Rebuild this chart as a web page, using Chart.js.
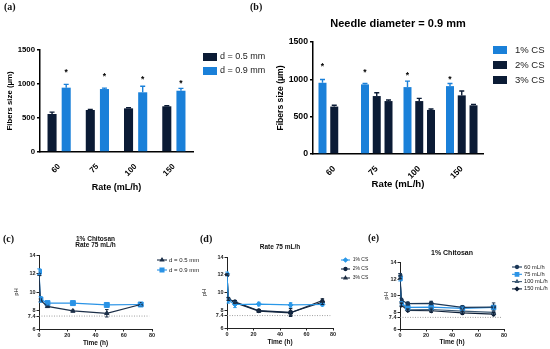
<!doctype html>
<html>
<head>
    <title>Fibers size and pH</title>
    <script src="https://cdn.jsdelivr.net/npm/chart.js@4/dist/chart.umd.min.js"></script>
    <style>
    body { margin: 0; background: #fff; }
    #fig { position: relative; width: 550px; height: 349px; background: #fff; overflow: hidden; }
    #fig canvas { position: absolute; }
    .tag { position: absolute; font: bold 10px 'Liberation Serif', 'Times New Roman', serif; line-height: 10px; color: #111; }
    </style>
</head>
<body>
<div id="fig">
    <canvas id="chartA" width="275" height="200" style="left:0;top:0"></canvas>
    <canvas id="chartB" width="275" height="200" style="left:275px;top:0"></canvas>
    <canvas id="chartC" width="200" height="124" style="left:0;top:225px"></canvas>
    <canvas id="chartD" width="185" height="124" style="left:185px;top:225px"></canvas>
    <canvas id="chartE" width="185" height="124" style="left:365px;top:225px"></canvas>
    <div class="tag" style="left:4px;top:2px">(a)</div>
    <div class="tag" style="left:250px;top:2px">(b)</div>
    <div class="tag" style="left:3px;top:234px">(c)</div>
    <div class="tag" style="left:200px;top:234px">(d)</div>
    <div class="tag" style="left:368px;top:233px">(e)</div>
</div>
<script>
// fibre size (um) per flow rate
var rateLabels = ['60', '75', '100', '150'];
var fiberTicks = [0, 500, 1000, 1500];

var sizeD05 = [559, 618, 642, 672];
var errD05 = [28, 7, 8, 8];
var sizeD09 = [946, 926, 878, 901];
var errD09 = [48, 14, 90, 35];
var starsA = [1205, 1148, 1098, 1035];

var sizeCS1 = [954, 932, 896, 909];
var errCS1 = [44, 13, 80, 36];
var sizeCS2 = [635, 776, 709, 785];
var errCS2 = [17, 45, 36, 58];
var sizeCS3 = [null, 709, 590, 652];
var errCS3 = [0, 14, 13, 13];
var starsB = [1198, 1122, 1078, 1034];

// pH over time
var timeH = [0, 1, 6, 24, 48, 72];
var timeTicks = [0, 20, 40, 60, 80];
var phTicks = [6, 7.4, 8, 10, 12, 14];
var refPH = 7.4;
var refEnd = 78;

var phD05 = [11.9, 9.1, 8.45, 7.95, 7.7, 8.65];
var errPhD05 = [0.1, 0.15, 0.1, 0.1, 0.4, 0.1];
var phD09 = [12.2, 9.2, 8.8, 8.8, 8.6, 8.65];
var errPhD09 = [0.3, 0.3, 0.2, 0.2, 0.2, 0.1];

var phCS1 = [12.1, 9.1, 8.65, 8.7, 8.6, 8.65];
var errPhCS1 = [0.2, 0.3, 0.35, 0.2, 0.25, 0.15];
var phCS2 = [12.0, 9.25, 8.95, 7.95, 7.75, 8.9];
var errPhCS2 = [0.1, 0.15, 0.15, 0.1, 0.45, 0.25];
var phCS3 = [12.0, 9.3, 8.85, 7.9, 7.7, 9.1];
var errPhCS3 = [0.1, 0.15, 0.1, 0.1, 0.3, 0.2];

var ph60 = [12.5, 9.5, 9.05, 9.1, 8.6, 8.65];
var errPh60 = [0.2, 0.2, 0.2, 0.25, 0.2, 0.5];
var ph75 = [12.1, 9.1, 8.6, 8.65, 8.5, 8.6];
var errPh75 = [0.3, 0.2, 0.15, 0.15, 0.15, 0.2];
var ph100 = [12.2, 9.0, 8.3, 8.35, 8.15, 8.0];
var errPh100 = [0.2, 0.2, 0.15, 0.2, 0.2, 0.2];
var ph150 = [12.3, 8.9, 8.25, 8.2, 7.95, 7.8];
var errPh150 = [0.2, 0.2, 0.15, 0.2, 0.2, 0.2];

var NAVY = '#0b1b35';
var BLUE = '#1a80d9';
var FONT = "'Liberation Sans', Arial, sans-serif";

Chart.defaults.font.family = FONT;
Chart.defaults.color = '#111';
Chart.defaults.animation = false;

function pts(ys) {
    return timeH.map(function(t, i) { return {x: t, y: ys[i]}; });
}

function plain(v) { return String(v); }

var errorBars = {
    id: 'errorBars',
    afterDatasetsDraw: function(chart) {
        var ctx = chart.ctx;
        chart.data.datasets.forEach(function(ds, i) {
            if (!ds.errors) return;
            var meta = chart.getDatasetMeta(i);
            var ys = chart.scales[meta.yAxisID];
            meta.data.forEach(function(el, j) {
                var v = ds.data[j];
                if (v !== null && typeof v === 'object') v = v.y;
                var e = ds.errors[j];
                if (v === null || v === undefined || !e) return;
                var top = ys.getPixelForValue(v + e);
                var bot = ds.errorUp ? el.y : ys.getPixelForValue(v - e);
                var c = ds.capW / 2;
                ctx.save();
                ctx.strokeStyle = ds.borderColor;
                ctx.lineWidth = ds.errW;
                ctx.beginPath();
                ctx.moveTo(el.x, bot); ctx.lineTo(el.x, top);
                ctx.moveTo(el.x - c, top); ctx.lineTo(el.x + c, top);
                if (!ds.errorUp) { ctx.moveTo(el.x - c, bot); ctx.lineTo(el.x + c, bot); }
                ctx.stroke();
                ctx.restore();
            });
        });
    }
};

var starMarks = {
    id: 'starMarks',
    afterDatasetsDraw: function(chart) {
        var ctx = chart.ctx;
        chart.data.datasets.forEach(function(ds, i) {
            if (!ds.stars) return;
            var meta = chart.getDatasetMeta(i);
            var ys = chart.scales[meta.yAxisID];
            ctx.save();
            ctx.font = 'bold 8.5px ' + FONT;
            ctx.fillStyle = '#000';
            ctx.textAlign = 'center';
            ctx.textBaseline = 'middle';
            meta.data.forEach(function(el, j) {
                ctx.fillText('*', el.x, ys.getPixelForValue(ds.stars[j]) + 2.5);
            });
            ctx.restore();
        });
    }
};

// legend drawn to the right of the plot area
var panelLegend = {
    id: 'panelLegend',
    afterDraw: function(chart, args, o) {
        if (o.x === undefined) return;
        var ctx = chart.ctx, a = chart.chartArea, n = 0;
        ctx.save();
        ctx.font = o.size + 'px ' + FONT;
        ctx.textBaseline = 'middle';
        chart.data.datasets.forEach(function(ds) {
            if (!ds.label) return;
            var x = a.right + o.x, y = a.top + o.y + n * o.gap;
            if (o.bars) {
                ctx.fillStyle = ds.backgroundColor;
                ctx.fillRect(x, y - o.boxH / 2, o.boxW, o.boxH);
            } else {
                ctx.strokeStyle = ds.borderColor;
                ctx.lineWidth = 1.1;
                ctx.beginPath(); ctx.moveTo(x, y); ctx.lineTo(x + o.lineW, y); ctx.stroke();
                ctx.fillStyle = ds.pointBackgroundColor;
                Chart.helpers.drawPoint(ctx, {pointStyle: ds.pointStyle, radius: ds.pointRadius * 0.8, borderWidth: 1, rotation: 0}, x + o.lineW / 2, y);
            }
            ctx.fillStyle = '#222';
            ctx.fillText(ds.label, x + o.textX, y);
            n++;
        });
        ctx.restore();
    }
};

function barScales(o) {
    return {
        x: {
            grid: {display: false},
            border: {color: '#000', width: 1.5},
            ticks: {font: {size: o.xTick, weight: 'bold'}, color: '#000', maxRotation: 45, minRotation: 45, autoSkip: false, padding: 2},
            title: {display: true, text: 'Rate (mL/h)', font: {size: o.xTitle, weight: 'bold'}, color: '#000', padding: {top: 0, bottom: 4}},
            afterFit: function(s) { s.height = o.xH; }
        },
        y: {
            min: 0, max: 1500,
            afterBuildTicks: function(s) { s.ticks = fiberTicks.map(function(v) { return {value: v}; }); },
            grid: {drawOnChartArea: false, color: '#000', lineWidth: 1.5, tickLength: 3},
            border: {color: '#000', width: 1.5},
            ticks: {font: {size: o.yTick, weight: 'bold'}, color: '#000', padding: 2, autoSkip: false, callback: plain},
            title: {display: true, text: 'Fibers size (µm)', font: {size: o.yTitle, weight: 'bold'}, color: '#000', padding: {top: o.yTitlePad, bottom: 0}},
            afterFit: function(s) { s.width = o.yW; }
        }
    };
}

function barDs(label, data, errors, color, stars) {
    return {label: label, data: data, errors: errors, errorUp: true, capW: 5, errW: 1.4, stars: stars,
        backgroundColor: color, borderColor: color, borderWidth: 0};
}

new Chart(document.getElementById('chartA'), {
    type: 'bar',
    data: {
        labels: rateLabels,
        datasets: [
            barDs('d = 0.5 mm', sizeD05, errD05, NAVY),
            barDs('d = 0.9 mm', sizeD09, errD09, BLUE, starsA)
        ]
    },
    options: {
        responsive: false,
        datasets: {bar: {categoryPercentage: 0.74, barPercentage: 0.64}},
        layout: {padding: {left: 0, top: 50, right: 82, bottom: 3}},
        plugins: {
            legend: {display: false}, tooltip: {enabled: false},
            panelLegend: {bars: true, x: 10, y: 7, gap: 14, boxW: 14, boxH: 8, textX: 17, size: 9}
        },
        scales: barScales({xTick: 8, xTitle: 9, xH: 45, yTick: 7.8, yTitle: 7.8, yW: 40, yTitlePad: 5.5})
    },
    plugins: [errorBars, starMarks, panelLegend]
});

new Chart(document.getElementById('chartB'), {
    type: 'bar',
    data: {
        labels: rateLabels,
        datasets: [
            barDs('1% CS', sizeCS1, errCS1, BLUE, starsB),
            barDs('2% CS', sizeCS2, errCS2, NAVY),
            barDs('3% CS', sizeCS3, errCS3, NAVY)
        ]
    },
    options: {
        responsive: false,
        datasets: {bar: {categoryPercentage: 0.83, barPercentage: 0.68}},
        layout: {padding: {left: 0, top: 17.4, right: 67, bottom: 5.4}},
        plugins: {
            legend: {display: false}, tooltip: {enabled: false},
            title: {display: true, text: 'Needle diameter = 0.9 mm', fullSize: false, color: '#000',
                font: {size: 11, weight: 'bold'}, padding: {top: 0, bottom: 11.4}},
            panelLegend: {bars: true, x: 10, y: 8, gap: 15, boxW: 14, boxH: 8, textX: 22, size: 9.5}
        },
        scales: barScales({xTick: 8.5, xTitle: 9.6, xH: 40.6, yTick: 8.7, yTitle: 8.6, yW: 38, yTitlePad: 0})
    },
    plugins: [errorBars, starMarks, panelLegend]
});

function lineDs(label, ys, errors, color, style, r) {
    return {label: label, data: pts(ys), errors: errors, capW: 3.5, errW: 1,
        borderColor: color, backgroundColor: color, pointBackgroundColor: color, pointBorderColor: color,
        borderWidth: 1.2, pointStyle: style, pointRadius: r, pointBorderWidth: 1, tension: 0};
}

function refLine() {
    return {label: '', data: [{x: 0, y: refPH}, {x: refEnd, y: refPH}], borderColor: '#888',
        borderWidth: 0.8, borderDash: [1, 1.5], pointRadius: 0};
}

function lineOptions(o) {
    return {
        responsive: false,
        layout: {padding: {left: 0, top: o.top, right: o.right, bottom: o.bottom}},
        plugins: {
            legend: {display: false}, tooltip: {enabled: false},
            title: {display: true, text: o.title, fullSize: false, color: '#111',
                font: {size: o.titleSize, weight: 'bold', lineHeight: o.titleLH}, padding: {top: 0, bottom: o.titleB}},
            panelLegend: o.legend
        },
        scales: {
            x: {
                type: 'linear', min: 0, max: 80,
                afterBuildTicks: function(s) { s.ticks = timeTicks.map(function(v) { return {value: v}; }); },
                grid: {drawOnChartArea: false, color: '#222', tickLength: 2.5},
                border: {color: '#222', width: 1},
                ticks: {font: {size: 5.5, weight: 'bold'}, color: '#222', padding: 1, autoSkip: false, maxRotation: 0, callback: plain},
                title: {display: true, text: 'Time (h)', font: {size: 6.5, weight: 'bold'}, color: '#111', padding: {top: 0, bottom: 1}},
                afterFit: function(s) { s.height = o.xH; }
            },
            y: {
                min: 6, max: 14,
                afterBuildTicks: function(s) { s.ticks = phTicks.map(function(v) { return {value: v}; }); },
                grid: {drawOnChartArea: false, color: '#222', tickLength: 2.5},
                border: {color: '#222', width: 1},
                ticks: {font: {size: 5.5, weight: 'bold'}, color: '#222', padding: 1, autoSkip: false, callback: plain},
                title: {display: true, text: 'pH', font: {size: 6}, color: '#111', padding: {top: o.pHpad, bottom: 0}},
                afterFit: function(s) { s.width = o.yW; }
            }
        }
    };
}

new Chart(document.getElementById('chartC'), {
    type: 'line',
    data: {
        datasets: [
            lineDs('d = 0.5 mm', phD05, errPhD05, '#1c2f48', 'triangle', 2.5),
            lineDs('d = 0.9 mm', phD09, errPhD09, '#2a93e6', 'rect', 3.5),
            refLine()
        ]
    },
    options: lineOptions({top: 11.4, right: 48, bottom: 0.9, title: ['1% Chitosan', 'Rate 75 mL/h'], titleSize: 6.5, titleLH: 0.95, titleB: 6.25,
        xH: 19.1, yW: 39, pHpad: 12.4,
        legend: {x: 5, y: 5, gap: 10, lineW: 10, textX: 12, size: 6}}),
    plugins: [errorBars, panelLegend]
});

new Chart(document.getElementById('chartD'), {
    type: 'line',
    data: {
        datasets: [
            lineDs('1% CS', phCS1, errPhCS1, '#2a98e8', 'rectRot', 2.5),
            lineDs('2% CS', phCS2, errPhCS2, '#0f2440', 'circle', 2),
            lineDs('3% CS', phCS3, errPhCS3, '#1d2d42', 'triangle', 2.3),
            refLine()
        ]
    },
    options: lineOptions({top: 18.1, right: 37, bottom: 1.9, title: 'Rate 75 mL/h', titleSize: 6.5, titleLH: 1.2, titleB: 6.1,
        xH: 19.1, yW: 42, pHpad: 15.7,
        legend: {x: 8, y: 3, gap: 9, lineW: 9, textX: 11.7, size: 5}}),
    plugins: [errorBars, panelLegend]
});

new Chart(document.getElementById('chartE'), {
    type: 'line',
    data: {
        datasets: [
            lineDs('60 mL/h', ph60, errPh60, '#1b3858', 'circle', 2),
            lineDs('75 mL/h', ph75, errPh75, '#2a93e6', 'rect', 3.2),
            lineDs('100 mL/h', ph100, errPh100, '#3e5a74', 'triangle', 2.3),
            lineDs('150 mL/h', ph150, errPh150, '#0d1f37', 'rectRot', 2.3),
            refLine()
        ]
    },
    options: lineOptions({top: 23.8, right: 46, bottom: 2.2, title: '1% Chitosan', titleSize: 7, titleLH: 1.2, titleB: 5.5,
        xH: 17.8, yW: 35, pHpad: 18.1,
        legend: {x: 8, y: 4.3, gap: 7.3, lineW: 10, textX: 12, size: 5.7}}),
    plugins: [errorBars, panelLegend]
});
</script>
</body>
</html>
